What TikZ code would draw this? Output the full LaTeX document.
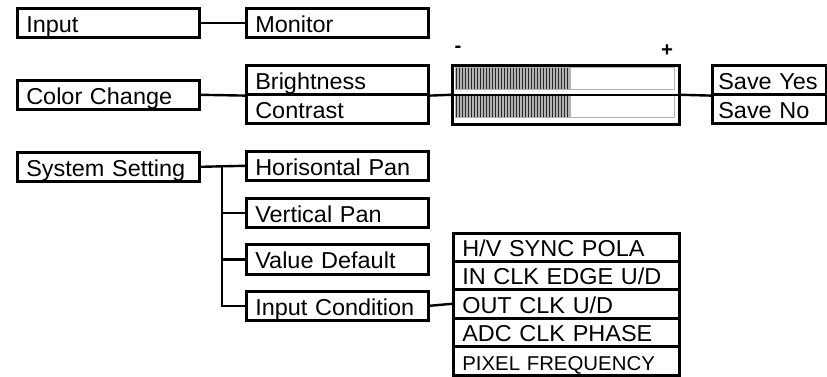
\documentclass[tikz,border=0pt]{standalone}
\usepackage{fontspec}
\setmainfont{Liberation Sans}[FakeStretch=1.02]
\usetikzlibrary{patterns}

\tikzset{
  menu/.style={draw, line width=2.6pt, anchor=north west, inner xsep=9pt, inner ysep=0pt,
    text width=#1, text height=23.5pt, text depth=4.5pt, minimum height=29pt,
    font=\fontsize{23}{25}\selectfont},
  menu/.default=164pt,
  wire/.style={line width=2.4pt},
  level/.style={draw=gray!60, line width=1pt},
  stripes/.style={preaction={fill=gray!60}, pattern=vertical lines, pattern color=black!85},
}

\begin{document}
\begin{tikzpicture}[x=1pt, y=-1pt]
  \useasboundingbox (0,0) rectangle (827,377);

  % first column
  \node[menu] (input) at (16,7) {Input};
  \node[menu] (color) at (16,79) {Color Change};
  \node[menu] (system) at (16,151) {System Setting};

  % second column
  \node[menu=164pt] (monitor) at (245,7) {Monitor};
  \node[menu=164pt] (bright) at (245,64) {Brightness};
  \node[menu=164pt] (contrast) at (245,93) {Contrast};
  \node[menu=164pt] (hpan) at (245,150) {Horisontal Pan};
  \node[menu=164pt] (vpan) at (245,197) {Vertical Pan};
  \node[menu=164pt, minimum height=30pt] (vdef) at (245,243) {Value Default};
  \node[menu=164pt] (incond) at (245,290) {Input Condition};

  % level bars
  \node[draw, line width=2.6pt, anchor=north west, minimum width=227pt, minimum height=59pt, inner sep=0pt] (bar) at (451,64) {};
  \draw[level, stripes] (455,68) rectangle (570,90);
  \draw[level, stripes] (455,96) rectangle (570,118);
  \draw[level] (455,68) rectangle (674,90);
  \draw[level] (455,96) rectangle (674,118);
  \node[font=\fontsize{20}{20}\bfseries] (minus) at (458,49) {-};
  \node[font=\fontsize{20}{20}\bfseries] (plus) at (667,51) {+};

  \node[menu=102pt, inner xsep=6pt] (yes) at (711,64) {Save Yes};
  \node[menu=102pt, inner xsep=6pt] (no) at (711,93) {Save No};

  % input condition list
  \node[menu=208pt, minimum height=28pt] (sync) at (452,232) {H/V SYNC POLA};
  \node[menu=208pt, minimum height=28pt] (inclk) at (452,260) {IN CLK EDGE U/D};
  \node[menu=208pt, minimum height=29pt] (outclk) at (452,288) {OUT CLK U/D};
  \node[menu=208pt, minimum height=28pt] (adc) at (452,317) {ADC CLK PHASE};
  \node[menu=208pt, minimum height=29pt, font=\fontsize{20}{22}\selectfont] (pixel) at (452,345) {PIXEL FREQUENCY};

  % connectors
  \draw[wire] (input.east) -- (monitor.west);
  \draw[wire] (color.east) -- (bright.south west);
  \draw[wire] (bright.south east) -- (bar.west);
  \draw[wire] (bar.west) -- (bar.east);
  \draw[wire] (bar.east) -- (yes.south west);

  \coordinate (trunk) at (222,165);
  \draw[wire] (system.east) -- (hpan.west);
  \draw[wire] (trunk) |- (incond.west);
  \draw[wire] (vpan.west) -- (vpan.west -| trunk);
  \draw[wire] (vdef.west) -- (vdef.west -| trunk);
  \draw[wire] (incond.east) -- (outclk.west);
\end{tikzpicture}
\end{document}
